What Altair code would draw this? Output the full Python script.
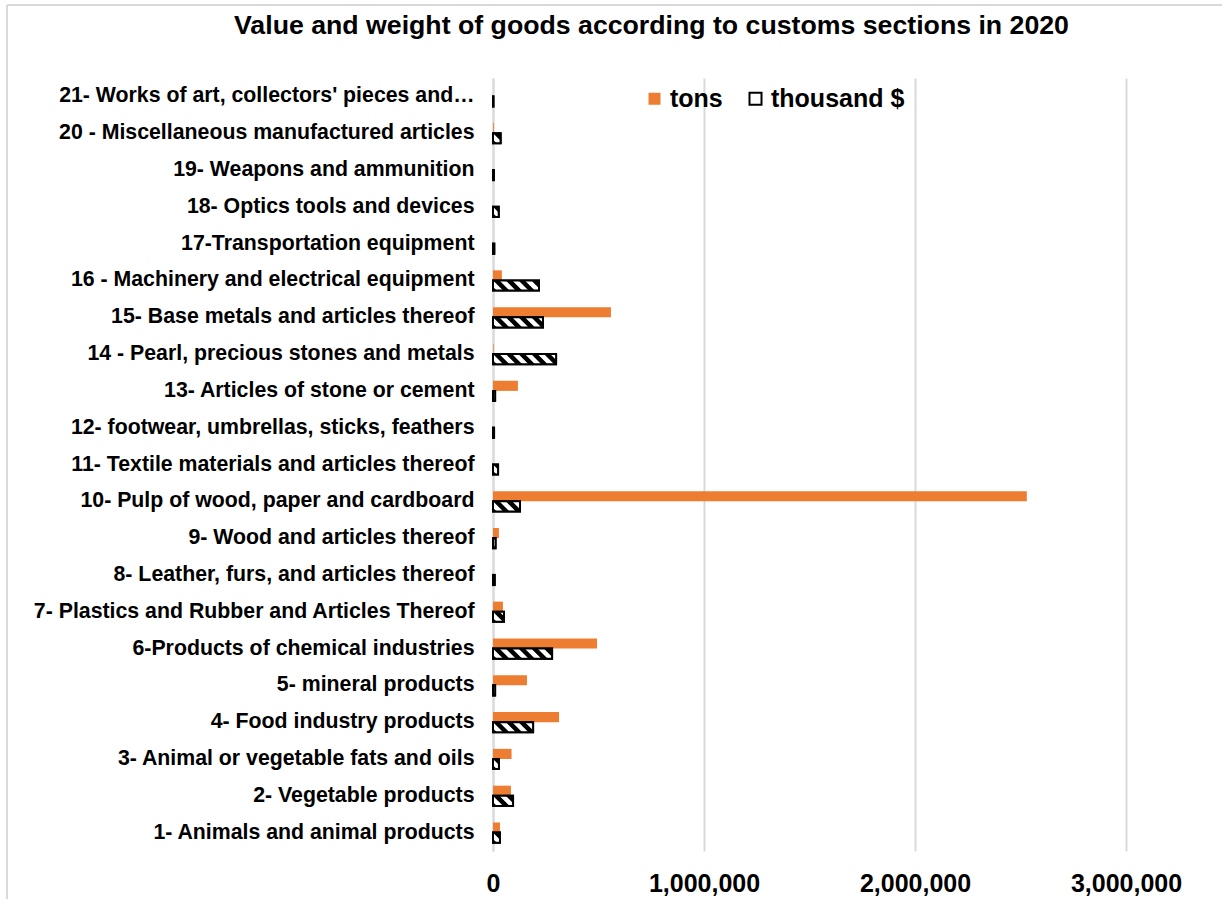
import urllib.parse
import altair as alt
import pandas as pd

categories = [
    "1- Animals and animal products",
    "2- Vegetable products",
    "3- Animal or vegetable fats and oils",
    "4- Food industry products",
    "5- mineral products",
    "6-Products of chemical industries",
    "7- Plastics and Rubber and Articles Thereof",
    "8- Leather, furs, and articles thereof",
    "9- Wood and articles thereof",
    "10- Pulp of wood, paper and cardboard",
    "11- Textile materials and articles thereof",
    "12- footwear, umbrellas, sticks, feathers",
    "13- Articles of stone or cement",
    "14 - Pearl, precious stones and metals",
    "15- Base metals and articles thereof",
    "16 - Machinery and electrical equipment",
    "17-Transportation equipment",
    "18- Optics tools and devices",
    "19- Weapons and ammunition",
    "20 - Miscellaneous manufactured articles",
    "21- Works of art, collectors' pieces and\u2026",
]
tons = [33000, 85000, 88000, 313000, 161000, 493000, 47000, 0, 28000, 2530000,
        0, 0, 118000, 3000, 559000, 42000, 0, 0, 0, 4000, 0]
thousand_usd = [33000, 95000, 28000, 190000, 10000, 280000, 52000, 8000, 12000, 128000,
                24000, 5000, 10000, 299000, 237000, 218000, 6000, 27000, 4000, 36000, 2000]
series_names = ["tons", "thousand $"]
x_ticks = [0, 1000000, 2000000, 3000000]

rows = []
for c, t, k in zip(categories, tons, thousand_usd):
    rows.append({"category": c, "series": series_names[0], "value": t})
    rows.append({"category": c, "series": series_names[1], "value": k})
df = pd.DataFrame(rows)

FONT = "Liberation Sans"
ORANGE = "#ED7D31"
GRID = "#D9D9D9"

hatch_svg = (
    "<svg xmlns='http://www.w3.org/2000/svg' width='100%' height='100%'>"
    "<defs><pattern id='h' width='9' height='9' patternUnits='userSpaceOnUse' "
    "patternTransform='rotate(-45)'><rect width='4.5' height='9' fill='black'/></pattern></defs>"
    "<rect width='100%' height='100%' fill='white'/>"
    "<rect width='100%' height='100%' fill='url(#h)'/></svg>"
)
hatch_url = "data:image/svg+xml," + urllib.parse.quote(hatch_svg)

y_enc = alt.Y(
    "category:N",
    sort=categories[::-1],
    scale=alt.Scale(paddingInner=0.45, paddingOuter=0.225),
    axis=alt.Axis(
        title=None, ticks=False, grid=False, domain=True, domainColor=GRID,
        domainWidth=2, labelFont=FONT, labelFontSize=21.3, labelFontWeight="bold",
        labelColor="black", labelPadding=19, labelLimit=600,
    ),
)
yoff_enc = alt.YOffset(
    "series:N", sort=series_names,
    scale=alt.Scale(domain=series_names, paddingInner=0, paddingOuter=0),
)
x_enc = alt.X(
    "value:Q",
    scale=alt.Scale(domain=[0, 3000000], nice=False),
    axis=alt.Axis(
        title=None, values=x_ticks, format=",.0f", grid=True, gridColor=GRID,
        gridWidth=2, domain=False, ticks=False, labelFont=FONT, labelFontSize=25,
        labelFontWeight="bold", labelColor="black", labelPadding=20,
        labelFlush=False, labelOverlap=False,
    ),
)

bars = alt.Chart(df).mark_bar().encode(
    x=x_enc,
    y=y_enc,
    yOffset=yoff_enc,
    fill=alt.Fill(
        "series:N",
        scale=alt.Scale(domain=series_names, range=[ORANGE, "white"]),
        legend=alt.Legend(
            title=None, orient="none", legendX=149, legendY=8, direction="horizontal",
            symbolType="square", symbolSize=144, symbolStrokeWidth=2,
            labelFont=FONT, labelFontSize=25, labelFontWeight="bold",
            labelColor="black", labelOffset=3, columnPadding=20,
        ),
    ),
    stroke=alt.Stroke(
        "series:N",
        scale=alt.Scale(domain=series_names, range=[ORANGE, "black"]),
    ),
    strokeWidth=alt.StrokeWidth(
        "series:N", scale=alt.Scale(domain=series_names, range=[0, 2]), legend=None
    ),
)

hatch = alt.Chart(df).transform_filter(
    alt.datum.series == series_names[1]
).mark_image(url=hatch_url, aspect=False).encode(
    x="value:Q",
    x2=alt.datum(0),
    y=alt.Y("category:N", sort=categories[::-1]),
    yOffset=alt.YOffset("series:N", sort=series_names),
)

outline = alt.Chart(df).transform_filter(
    alt.datum.series == series_names[1]
).mark_bar(fill="transparent", stroke="black", strokeWidth=2).encode(
    x="value:Q",
    y=alt.Y("category:N", sort=categories[::-1]),
    yOffset=alt.YOffset("series:N", sort=series_names),
)

frame_left = alt.Chart(df).mark_rule(color=GRID, strokeWidth=2).encode(
    x=alt.value(-486), y=alt.value(-73), y2=alt.value(840)
)
frame_top = alt.Chart(df).mark_rule(color=GRID, strokeWidth=2).encode(
    x=alt.value(-486), x2=alt.value(740), y=alt.value(-73)
)

chart = alt.layer(bars, hatch, outline, frame_left, frame_top).properties(
    width=633,
    height=773,
    autosize="none",
    padding={"left": 493, "top": 78, "right": 96, "bottom": 48},
    title=alt.TitleParams(
        text="Value and weight of goods according to customs sections in 2020",
        font=FONT, fontSize=26.7, fontWeight="bold", color="black",
        anchor="middle", dx=-158, offset=-36,
    ),
).configure(background="white").configure_view(stroke=None)

chart.save("out.html", embed_options={"renderer": "svg", "actions": False})
